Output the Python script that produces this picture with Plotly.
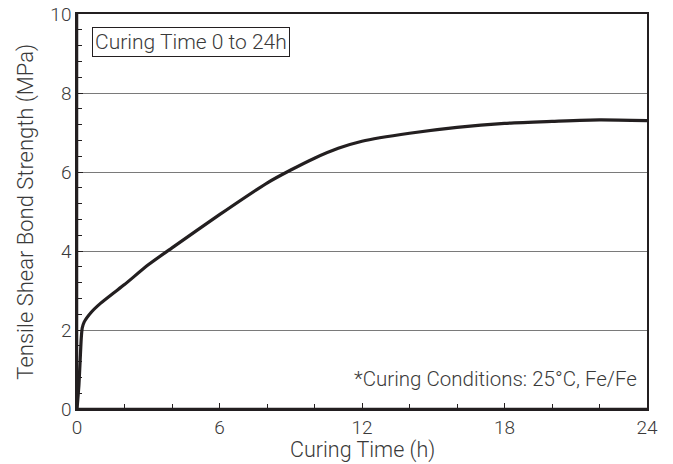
import plotly.graph_objects as go

# Curing time (h) and tensile shear bond strength (MPa)
curing_time_h = [0, 0.08, 0.13, 0.18, 0.22, 0.3, 0.6, 1.0, 1.5, 2.0, 3.0, 4.0, 6.0, 8.0, 9.0,
                 10.0, 11.0, 12.0, 14.0, 16.0, 18.0, 20.0, 22.0, 24.0]
strength_mpa = [0, 0.6, 1.2, 1.8, 2.05, 2.2, 2.45, 2.68, 2.92, 3.15, 3.65, 4.08, 4.92, 5.72, 6.05,
                6.35, 6.6, 6.78, 6.98, 7.13, 7.23, 7.28, 7.32, 7.3]

x_ticks = [0, 6, 12, 18, 24]
y_ticks = [0, 2, 4, 6, 8, 10]

FONT = "Roboto, Liberation Sans, sans-serif"
INK = "#231f20"
TEXT = "#3a3a3a"

fig = go.Figure()
fig.add_trace(go.Scatter(
    x=curing_time_h, y=strength_mpa, mode="lines",
    line=dict(color=INK, width=3.2, shape="spline", smoothing=0.6),
    showlegend=False, hoverinfo="skip",
))

axis_common = dict(
    showline=True, linecolor=INK, linewidth=1.5, mirror=True,
    ticks="inside", ticklen=6, tickwidth=1, tickcolor=INK,
    tickfont=dict(family=FONT, size=19, color=TEXT, weight=300),
    zeroline=False, automargin=False,
)

fig.update_xaxes(
    range=[0, 24], tickvals=x_ticks, showgrid=False,
    minor=dict(ticks="inside", dtick=2, tick0=0, ticklen=5, tickcolor=INK, showgrid=False),
    **axis_common,
)
fig.update_yaxes(
    range=[0, 10], tickvals=y_ticks, showgrid=True, gridcolor="#7a7a7a", gridwidth=1,
    minor=dict(ticks="inside", dtick=0.4, tick0=0, ticklen=5, tickcolor=INK, showgrid=False),
    **axis_common,
)

# axis titles placed as paper annotations for tighter spacing
fig.add_annotation(
    x=0.5, y=-0.104, xref="paper", yref="paper", xanchor="center", yanchor="middle",
    text="Curing Time (h)", showarrow=False,
    font=dict(family=FONT, size=21.5, color=TEXT, weight=300),
)
fig.add_annotation(
    x=-0.091, y=0.5, xref="paper", yref="paper", xanchor="center", yanchor="middle",
    text="Tensile Shear Bond Strength (MPa)", showarrow=False, textangle=-90,
    font=dict(family=FONT, size=22, color=TEXT, weight=300),
)

# heavier left and bottom frame edges
fig.add_shape(type="line", xref="paper", yref="paper", x0=0, x1=0, y0=0, y1=1,
              line=dict(color=INK, width=2.5))
fig.add_shape(type="line", xref="paper", yref="paper", x0=0, x1=1, y0=0, y1=0,
              line=dict(color=INK, width=2.5))

fig.add_annotation(
    x=0.026, y=0.967, xref="paper", yref="paper", xanchor="left", yanchor="top",
    text="Curing Time 0 to 24h", showarrow=False,
    font=dict(family=FONT, size=21, color=TEXT, weight=300),
    bordercolor=INK, borderwidth=1, borderpad=2, bgcolor="white",
)
fig.add_annotation(
    x=0.986, y=0.075, xref="paper", yref="paper", xanchor="right", yanchor="middle",
    text="*Curing Conditions: 25°C, Fe/Fe", showarrow=False,
    font=dict(family=FONT, size=20.5, color=TEXT, weight=300),
)

fig.update_layout(
    width=673, height=464,
    margin=dict(l=77, r=26, t=14, b=55),
    paper_bgcolor="white", plot_bgcolor="white",
)

fig.write_html("out.html")
